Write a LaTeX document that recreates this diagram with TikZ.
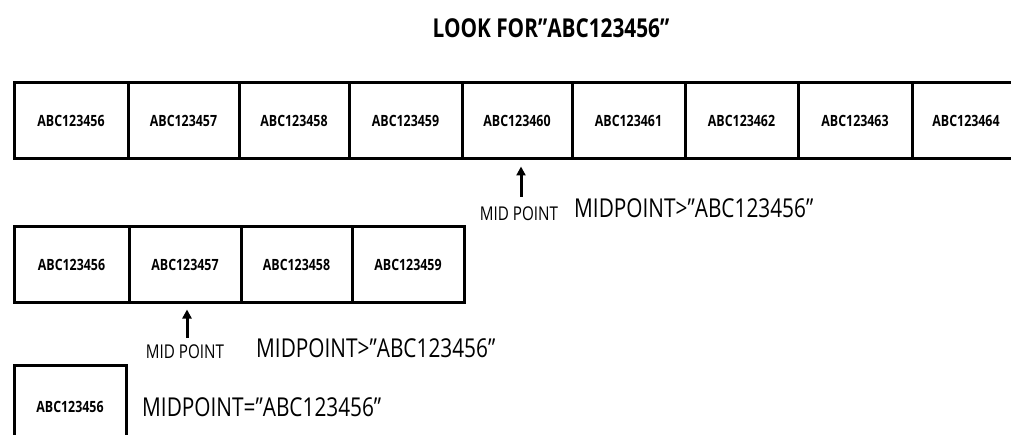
\documentclass[tikz,border=0pt]{standalone}
\usepackage{fontspec}
\setmainfont{Open Sans}[FakeStretch=0.8]
\usetikzlibrary{arrows.meta}
\newcommand{\dq}{\char34\relax}
\begin{document}
\begin{tikzpicture}[x=1pt,y=-1pt,
  cell/.style={draw, line width=3pt, inner sep=0pt, font=\bfseries\fontsize{15.5}{15.5}\selectfont},
  title/.style={inner sep=0pt, font=\bfseries\fontsize{26}{26}\selectfont},
  big/.style={inner sep=0pt, anchor=west, font=\fontsize{26}{26}\selectfont},
  small/.style={inner sep=0pt, font=\fontsize{19}{19}\selectfont},
  arr/.style={-{Triangle[length=9pt,width=9pt]}, line width=3pt}]
\useasboundingbox (0,0) rectangle (1011,435);
\clip (0,0) rectangle (1011,435);
\node[title] (ttl) at (551,28) {LOOK FOR\dq ABC123456\dq};
% top row
\foreach \n/\l/\r/\t in {1/14/128/ABC123456,2/128/239/ABC123457,3/239/349/ABC123458,4/349/462/ABC123459,5/462/572/ABC123460,6/572/685/ABC123461,7/685/798/ABC123462,8/798/912/ABC123463}{
  \node[cell, minimum width={\r-\l}, minimum height=76pt] (t\n) at ({(\l+\r)/2},121) {\t};
}
\node[cell, minimum width=130pt, minimum height=76pt] (t9) at (977,121) {};
\node[inner sep=0pt, font=\bfseries\fontsize{15.5}{15.5}\selectfont] (t9l) at (966,121) {ABC123464};
\coordinate (a1) at (521,197);
\draw[arr] (a1) -- ([yshift=-6pt]a1 |- t5.south);
\node[small] (mp1) at (519,214) {MID POINT};
\node[big] (res1) at (574,208) {MIDPOINT>\dq ABC123456\dq};
% middle row
\foreach \n/\l/\r/\t in {1/14/129/ABC123456,2/129/241/ABC123457,3/241/352/ABC123458,4/352/464/ABC123459}{
  \node[cell, minimum width={\r-\l}, minimum height=76pt] (m\n) at ({(\l+\r)/2},265) {\t};
}
\coordinate (a2) at (187,338);
\draw[arr] (a2) -- ([yshift=-5pt]a2 |- m2.south);
\node[small] (mp2) at (185,352) {MID POINT};
\node[big] (res2) at (256,348) {MIDPOINT>\dq ABC123456\dq};
% bottom
\node[cell, minimum width=112pt, minimum height=84pt] (b1) at (70,407) {ABC123456};
\node[big] (res3) at (142,407) {MIDPOINT=\dq ABC123456\dq};
\end{tikzpicture}
\end{document}
